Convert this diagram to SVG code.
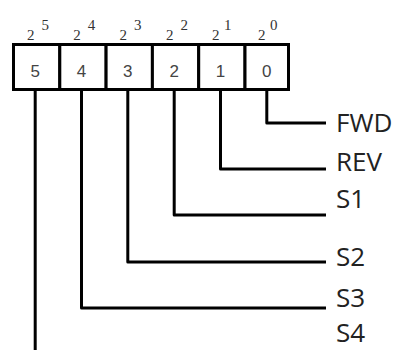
<svg xmlns="http://www.w3.org/2000/svg" width="400" height="350" viewBox="0 0 400 350">
<style>
.cell{fill:#fff;stroke:#000;stroke-width:3}
.dig{font-family:"Liberation Sans",Arial,sans-serif;font-size:17px;fill:#444;text-anchor:middle}
.base{font-family:"Liberation Serif","Times New Roman",serif;font-size:15px;fill:#333}
.exp{font-family:"Liberation Serif","Times New Roman",serif;font-size:15px;fill:#333}
.lbl{font-family:"Open Sans","Liberation Sans",sans-serif;font-size:26px;fill:#222}
.wire{fill:none;stroke:#000;stroke-width:3;stroke-linejoin:round}
</style>
<rect width="400" height="350" fill="#fff"/>
<g id="register">
<g id="bit5"><rect class="cell" x="13.5" y="44.5" width="46.3" height="45"/><text class="dig" x="35.2" y="77">5</text><text class="base" x="27" y="40">2</text><text class="exp" x="41.5" y="30">5</text></g>
<g id="bit4"><rect class="cell" x="59.8" y="44.5" width="46.3" height="45"/><text class="dig" x="81.5" y="77">4</text><text class="base" x="73.3" y="40">2</text><text class="exp" x="87.8" y="30">4</text></g>
<g id="bit3"><rect class="cell" x="106.1" y="44.5" width="46.3" height="45"/><text class="dig" x="127.8" y="77">3</text><text class="base" x="119.6" y="40">2</text><text class="exp" x="134.1" y="30">3</text></g>
<g id="bit2"><rect class="cell" x="152.4" y="44.5" width="46.3" height="45"/><text class="dig" x="174.2" y="77">2</text><text class="base" x="166" y="40">2</text><text class="exp" x="180.5" y="30">2</text></g>
<g id="bit1"><rect class="cell" x="198.7" y="44.5" width="46.3" height="45"/><text class="dig" x="220.5" y="77">1</text><text class="base" x="212" y="40">2</text><text class="exp" x="224" y="30">1</text></g>
<g id="bit0"><rect class="cell" x="245" y="44.5" width="43.5" height="45"/><text class="dig" x="266.8" y="77">0</text><text class="base" x="258" y="40">2</text><text class="exp" x="270" y="30">0</text></g>
</g>
<g id="connectors">
<path class="wire" d="M266.8 91 V123 H326"/>
<path class="wire" d="M220.5 91 V169 H326"/>
<path class="wire" d="M174.2 91 V215 H326"/>
<path class="wire" d="M127.8 91 V262 H326"/>
<path class="wire" d="M81.5 91 V308 H326"/>
<path class="wire" d="M35.2 91 V356 H326"/>
</g>
<g id="label-fwd"><text class="lbl" x="336" y="132">FWD</text></g>
<g id="label-rev"><text class="lbl" x="336" y="171">REV</text></g>
<g id="label-s1"><text class="lbl" x="336" y="208">S1</text></g>
<g id="label-s2"><text class="lbl" x="336" y="266">S2</text></g>
<g id="label-s3"><text class="lbl" x="336" y="307">S3</text></g>
<g id="label-s4"><text class="lbl" x="336" y="342">S4</text></g>
</svg>
